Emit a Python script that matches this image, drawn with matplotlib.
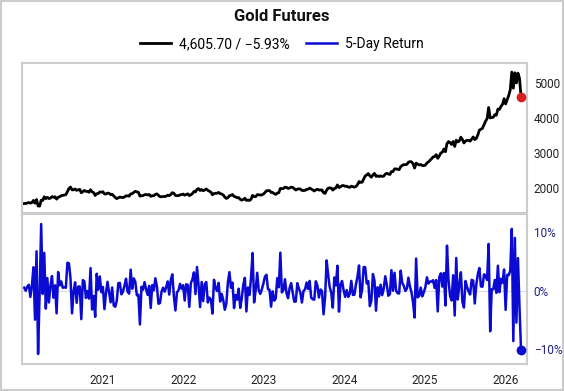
import numpy as np
import pandas as pd
import matplotlib
matplotlib.use("Agg")
import matplotlib.pyplot as plt
import matplotlib.dates as mdates
from matplotlib.patches import Rectangle

plt.rcParams["font.family"] = ["Roboto", "DejaVu Sans"]

# weekly (Friday) gold futures closes
gold_2020 = [1552, 1560, 1560, 1571, 1587, 1570, 1584, 1648, 1566, 1672, 1490, 1484, 1654,
             1645, 1752, 1698, 1735, 1700, 1713, 1756, 1735, 1751, 1683, 1737, 1753, 1781,
             1790, 1801, 1810, 1897, 1986, 2028, 1949, 1947, 1975, 1934, 1948, 1962, 1866,
             1900, 1930, 1906, 1905, 1879, 1952, 1889, 1872, 1788, 1840, 1843, 1888, 1883]
gold_2021 = [1895, 1835, 1828, 1856, 1850, 1813, 1823, 1777, 1728, 1698, 1720, 1743, 1732,
             1729, 1744, 1780, 1777, 1768, 1832, 1838, 1877, 1906, 1891, 1878, 1769, 1781,
             1784, 1810, 1815, 1802, 1817, 1763, 1780, 1781, 1819, 1833, 1792, 1754, 1751,
             1760, 1757, 1768, 1796, 1784, 1817, 1868, 1851, 1788, 1783, 1784, 1805, 1811, 1828]
gold_2022 = [1797, 1817, 1835, 1784, 1807, 1842, 1900, 1889, 1966, 1985, 1929, 1958, 1923,
             1945, 1974, 1934, 1911, 1882, 1808, 1842, 1851, 1850, 1875, 1840, 1830, 1801,
             1742, 1703, 1727, 1782, 1791, 1816, 1762, 1749, 1722, 1728, 1677, 1655, 1672,
             1709, 1648, 1657, 1645, 1681, 1790, 1754, 1755, 1809, 1810, 1800, 1804, 1826]
gold_2023 = [1870, 1921, 1926, 1929, 1876, 1874, 1842, 1817, 1856, 1867, 1989, 1983, 1986,
             2025, 2016, 1990, 1999, 2025, 2019, 1981, 1944, 1969, 1977, 1970, 1930, 1929,
             1933, 1960, 1966, 1999, 1975, 1946, 1916, 1947, 1965, 1942, 1946, 1945, 1866,
             1845, 1941, 1994, 2006, 1999, 1941, 1985, 2003, 2089, 2014, 2035, 2069, 2071]
gold_2024 = [2049, 2051, 2029, 2019, 2053, 2038, 2024, 2046, 2095, 2186, 2161, 2166, 2254,
             2345, 2374, 2413, 2349, 2309, 2375, 2417, 2334, 2348, 2325, 2349, 2331, 2339,
             2397, 2421, 2400, 2386, 2470, 2470, 2546, 2547, 2536, 2524, 2611, 2646, 2668,
             2667, 2676, 2736, 2755, 2748, 2694, 2570, 2712, 2681, 2657, 2671, 2645, 2638]
gold_2025 = [2654, 2715, 2748, 2791, 2835, 2886, 2900, 2953, 2848, 2914, 3001, 3022, 3114,
             3035, 3270, 3328, 3298, 3243, 3329, 3187, 3366, 3315, 3346, 3452, 3385, 3287,
             3342, 3363, 3359, 3337, 3399, 3458, 3382, 3418, 3516, 3653, 3680, 3705, 3809,
             3908, 3980, 4300, 4000, 4010, 4020, 4094, 4079, 4254, 4243, 4330, 4390, 4550]
gold_2026 = [4400, 4520, 4640, 4800, 5310, 4850, 5290, 5000, 5280, 5130, 4605.70]

last_price = 4605.70
last_change = -5.93
year_ticks = [2021, 2022, 2023, 2024, 2025, 2026]

yearly = {2020: gold_2020, 2021: gold_2021, 2022: gold_2022, 2023: gold_2023,
          2024: gold_2024, 2025: gold_2025, 2026: gold_2026}

idx = []
for yr, vals in yearly.items():
    idx.extend(pd.date_range(f"{yr}-01-01", periods=len(vals), freq="W-FRI"))
price = pd.Series(np.concatenate([np.array(v, float) for v in yearly.values()]), index=idx)
ret = (price.pct_change() * 100).dropna()

fig = plt.figure(figsize=(5.64, 3.91), dpi=100)
fig.patches.append(Rectangle((0.002, 0.002), 0.996, 0.996, transform=fig.transFigure,
                             fill=False, edgecolor="#cccccc", lw=1.5))

ax1 = fig.add_axes([0.039, 0.455, 0.895, 0.384])
ax2 = fig.add_axes([0.039, 0.069, 0.895, 0.384], sharex=ax1)

ax1.plot(price.index, price.values, color="black", lw=2.0,
         label=f"{last_price:,.2f} / \u2212{abs(last_change):.2f}%")
ax1.plot(price.index[-1], price.values[-1], "o", color="#d62020", ms=6, zorder=5)
ax1.set_ylim(1285, 5570)
ax1.set_yticks([2000, 3000, 4000, 5000])

ax2.axhline(0, color="#d8d8ee", lw=0.8, zorder=0)
ax2.plot(ret.index, ret.values, color="#0a0ad2", lw=1.8, label="5-Day Return")
ax2.plot(ret.index[-1], ret.values[-1], "o", color="#0a0ad2", ms=6, zorder=5)
ax2.set_ylim(-12.6, 13.2)
ax2.set_yticks([-10, 0, 10])
ax2.set_yticklabels(["\u221210%", "0%", "10%"])

ax1.set_xlim(pd.Timestamp("2019-12-31"), pd.Timestamp("2026-04-08"))
ax2.set_xticks([pd.Timestamp(f"{y}-01-01") for y in year_ticks])
ax2.xaxis.set_major_formatter(mdates.DateFormatter("%Y"))

for ax in (ax1, ax2):
    for s in ax.spines.values():
        s.set_color("#cccccc")
        s.set_linewidth(1.5)
    ax.yaxis.tick_right()
    ax.tick_params(axis="both", length=0, labelsize=8.5, pad=5)
ax1.tick_params(axis="x", labelbottom=False)
ax1.tick_params(axis="y", labelcolor="#222222")
ax2.tick_params(axis="y", labelcolor="#1c1c80")
ax2.tick_params(axis="x", labelcolor="#222222", pad=7)

fig.text(0.5, 0.957, "Gold Futures", ha="center", va="center",
         fontsize=12, fontweight="bold", color="#111111")
h1, l1 = ax1.get_legend_handles_labels()
h2, l2 = ax2.get_legend_handles_labels()
fig.legend(h1 + h2, l1 + l2, loc="center", bbox_to_anchor=(0.5, 0.887), ncol=2,
           frameon=False, fontsize=10, handlelength=2.2, columnspacing=1.2,
           handletextpad=0.6)

fig.savefig("out.png", dpi=100)
